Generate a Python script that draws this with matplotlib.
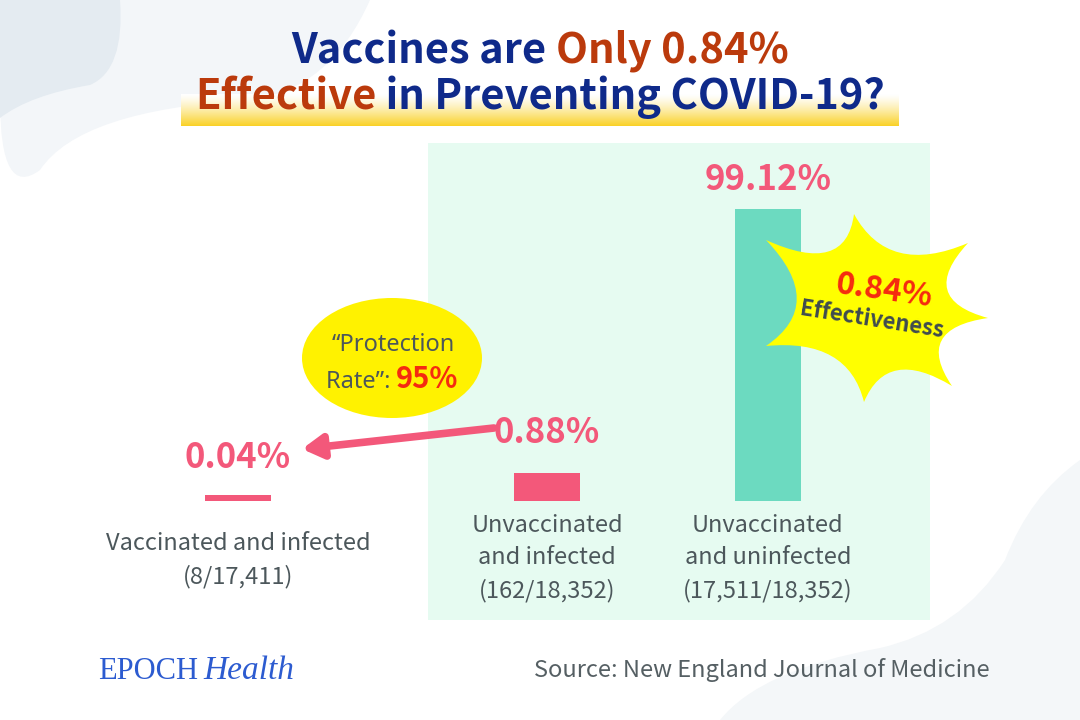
import numpy as np
import matplotlib.pyplot as plt
from matplotlib.patches import Ellipse, Rectangle, PathPatch, FancyArrowPatch
from matplotlib.path import Path

# data
categories = ['Vaccinated and infected\n(8/17,411)',
              'Unvaccinated\nand infected\n(162/18,352)',
              'Unvaccinated\nand uninfected\n(17,511/18,352)']
rates = [0.04, 0.88, 99.12]
value_labels = ['0.04%', '0.88%', '99.12%']
bar_colors = ['#f3587a', '#f3587a', '#6cdac0']

# layout
xpos = [0, 1, 1.715]
label_gap = [27, 30, 19]      # px between bar top and value label
cat_gap = [31, 13, 13]        # px between baseline and category label

PINK = '#f3587a'
GRAY = '#4c575b'
NAVY = '#0f2a8a'
RUST = '#bb3a0c'
CJK = ['Noto Sans CJK SC', 'DejaVu Sans']
TITLE_FONT = ['Liberation Sans Narrow', 'Noto Sans CJK SC', 'DejaVu Sans']

plt.rcParams['font.family'] = CJK
fig = plt.figure(figsize=(10.8, 7.2), dpi=100)
fig.patch.set_facecolor('white')


def blob(ax, pts, color):
    pts = np.array(pts, float)
    verts = [tuple(pts[0])]
    codes = [Path.MOVETO]
    for i in range(1, len(pts) - 1, 2):
        verts += [tuple(pts[i]), tuple(pts[i + 1])]
        codes += [Path.CURVE3, Path.CURVE3]
    verts.append(tuple(pts[0]))
    codes.append(Path.CLOSEPOLY)
    ax.add_patch(PathPatch(Path(verts, codes), facecolor=color, lw=0))


# background decorations (pixel space)
bg = fig.add_axes([0, 0, 1, 1], zorder=0)
bg.set_xlim(0, 1080); bg.set_ylim(720, 0); bg.axis('off')
blob(bg, [(0, 0), (300, -5), (370, 0), (330, 90), (250, 100), (80, 110),
          (40, 170), (0, 200), (0, 100)], '#f3f6f9')
blob(bg, [(0, 0), (60, 0), (120, 0), (125, 70), (90, 85), (30, 95),
          (0, 118), (0, 60), (0, 30)], '#e4ebf1')
blob(bg, [(1080, 460), (1030, 495), (1005, 560), (960, 630), (880, 648),
          (760, 670), (720, 720), (900, 720), (1080, 720), (1080, 600), (1080, 520)], '#f4f7f9')
bg.add_patch(Rectangle((428, 143), 502, 477, color='#e6fbf1', lw=0))
grad = np.linspace(0, 1, 64)[:, None]
band = np.ones((64, 1, 3))
band[:, 0, 0] = 1 - grad[:, 0] ** 1.3 * 0.02
band[:, 0, 1] = 1 - grad[:, 0] ** 1.3 * 0.18
band[:, 0, 2] = 1 - grad[:, 0] ** 1.3 * 0.85
bg.imshow(band, extent=[181, 899, 126, 94], aspect='auto', zorder=1)
bg.set_xlim(0, 1080); bg.set_ylim(720, 0)


def color_line(ax, x, y, parts, **kw):
    r = fig.canvas.get_renderer()
    txts = [ax.text(0, y, s, color=c, va='baseline', ha='left', **kw) for s, c in parts]
    widths = [t.get_window_extent(r).width for t in txts]
    cur = x - sum(widths) / 2
    for t, w in zip(txts, widths):
        t.set_x(cur)
        cur += w
    return txts


title_kw = dict(fontsize=30, fontweight='bold', family=TITLE_FONT, zorder=3)
color_line(bg, 540, 63, [('Vaccines are ', NAVY), ('Only 0.84%', RUST)], **title_kw)
color_line(bg, 540, 109, [('Effective', RUST), (' in Preventing COVID-19?', NAVY)], **title_kw)

# chart
ax = fig.add_axes([0.0773, 0.3042, 0.8011, 0.4073], zorder=1)
ax.patch.set_alpha(0)
ax.set_yscale('function', functions=(lambda v: np.sqrt(np.clip(v, 0, None)), np.square))
ax.bar(xpos, rates, width=0.2136, color=bar_colors)
ax.set_xlim(-0.5, 2.3)
ax.set_ylim(0, 100)
ax.axis('off')

for x, v, lab, g in zip(xpos, rates, value_labels, label_gap):
    ax.annotate(lab, (x, v), xytext=(0, g * 0.72), textcoords='offset points',
                ha='center', va='baseline', fontsize=25, fontweight='bold', color=PINK)
for x, cat, g in zip(xpos, categories, cat_gap):
    ax.annotate(cat, (x, 0), xytext=(0, -g * 0.72), textcoords='offset points',
                ha='center', va='top', fontsize=17, color=GRAY, linespacing=1.52)

# overlay callouts
ov = fig.add_axes([0, 0, 1, 1], zorder=2)
ov.set_xlim(0, 1080); ov.set_ylim(720, 0); ov.axis('off')
ov.add_patch(FancyArrowPatch((494, 428), (302, 449), arrowstyle='-|>,head_length=6,head_width=3.5',
                             color=PINK, lw=5.5, mutation_scale=2, shrinkA=0, shrinkB=0))
ov.add_patch(Ellipse((392, 358), 180, 120, color='#fff200', lw=0))
ov.text(393, 351, '\u201cProtection', ha='center', va='baseline', fontsize=17, color=GRAY,
        family=['Noto Sans', 'DejaVu Sans'])
r = fig.canvas.get_renderer()
t1 = ov.text(0, 388, 'Rate\u201d: ', ha='left', va='baseline', fontsize=17, color=GRAY,
             family=['Noto Sans', 'DejaVu Sans'])
t2 = ov.text(0, 388, '95%', ha='left', va='baseline', fontsize=21, fontweight='bold', color='#f52a10')
w1 = t1.get_window_extent(r).width; w2 = t2.get_window_extent(r).width
t1.set_x(392 - (w1 + w2) / 2); t2.set_x(392 - (w1 + w2) / 2 + w1)

# starburst
c = np.array([872, 312])
tips = np.array([(854, 214), (968, 243), (988, 318), (952, 386), (864, 402), (766, 346), (766, 240)])
verts, codes = [tuple(tips[0])], [Path.MOVETO]
for i in range(len(tips)):
    a, b = tips[i], tips[(i + 1) % len(tips)]
    ctrl = c + 0.42 * ((a + b) / 2 - c)
    verts += [tuple(ctrl), tuple(b)]
    codes += [Path.CURVE3, Path.CURVE3]
ov.add_patch(PathPatch(Path(verts, codes), facecolor='#ffff00', lw=0))
ov.text(884, 291, '0.84%', ha='center', va='center', fontsize=23, fontweight='bold',
        color='#f52a10', rotation=-8)
ov.text(872, 320, 'Effectiveness', ha='center', va='center', fontsize=16, fontweight='bold',
        color='#3f4b50', rotation=-9)

# footer
ov.text(98, 679, 'EPOCH', ha='left', va='baseline', fontsize=22, color='#2c5bd0',
        family='Liberation Serif')
ov.text(203, 679, 'Health', ha='left', va='baseline', fontsize=24, color='#2c5bd0',
        family='Liberation Serif', style='italic')
ov.text(990, 677, 'Source: New England Journal of Medicine', ha='right', va='baseline',
        fontsize=17, color='#555f63')

fig.savefig('out.png', dpi=100)
